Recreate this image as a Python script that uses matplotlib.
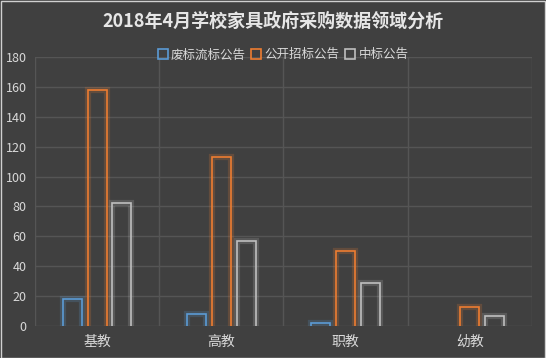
import numpy as np
import matplotlib.pyplot as plt
from matplotlib.lines import Line2D

plt.rcParams['font.family'] = ['Noto Sans CJK SC', 'DejaVu Sans']

categories = ['基教', '高教', '职教', '幼教']
series_names = ['废标流标公告', '公开招标公告', '中标公告']
feibiao = [18, 8, 2, 0]
gongkai = [158, 113, 50, 13]
zhongbiao = [82, 57, 29, 7]
yticks = [0, 20, 40, 60, 80, 100, 120, 140, 160, 180]

colors = ['#5b9bd5', '#ed7d31', '#bfbfbf']
bg = '#404040'

fig = plt.figure(figsize=(5.46, 3.58), dpi=100, facecolor=bg)
ax = fig.add_axes([0.064, 0.089, 0.91, 0.752], facecolor=bg)

x = np.arange(len(categories))
w = 0.153
offsets = [-0.2, 0, 0.2]
base = -3  # bars start below the axis so the bottom edge is hidden, as in the original
for vals, off, c in zip([feibiao, gongkai, zhongbiao], offsets, colors):
    vals = np.array(vals, dtype=float)
    keep = vals > 0
    xs = (x + off)[keep]
    hs = vals[keep] - base
    ax.bar(xs, hs, w, bottom=base, facecolor='none', edgecolor=c, linewidth=4.5, alpha=0.2, zorder=2)
    ax.bar(xs, hs, w, bottom=base, facecolor='none', edgecolor=c, linewidth=1.2, zorder=3)

ax.set_xlim(-0.5, 3.5)
ax.set_ylim(0, 180)
ax.set_yticks(yticks)
ax.set_xticks(x)
ax.set_xticklabels(categories)
ax.set_xticks([-0.5, 0.5, 1.5, 2.5, 3.5], minor=True)
ax.grid(axis='y', color='#555555', linewidth=1, zorder=0)
ax.grid(axis='x', which='minor', color='#555555', linewidth=1, zorder=0)
ax.tick_params(axis='both', which='both', length=0, colors='#d9d9d9')
ax.tick_params(axis='y', labelsize=9, pad=6)
ax.tick_params(axis='x', labelsize=10, pad=6)
for s in ax.spines.values():
    s.set_visible(False)

handles = [Line2D([], [], marker='s', linestyle='none', markersize=7,
                  markerfacecolor='none', markeredgecolor=c, markeredgewidth=1.2)
           for c in colors]
leg = ax.legend(handles, series_names, loc='lower center', bbox_to_anchor=(0.5, 0.965),
                ncol=3, frameon=False, fontsize=9, handlelength=0.7, handletextpad=0.3,
                columnspacing=0.5, labelcolor='#d9d9d9', borderaxespad=0)

fig.text(0.5, 0.94, '2018年4月学校家具政府采购数据领域分析', ha='center', va='center',
         fontsize=13, fontweight='bold', color='#e6e6e6')

fig.patches.append(plt.Rectangle((0.001, 0.001), 0.997, 0.997, transform=fig.transFigure,
                                 fill=False, edgecolor='#d0d0d0', linewidth=1))

fig.savefig('out.png', dpi=100, facecolor=bg)
